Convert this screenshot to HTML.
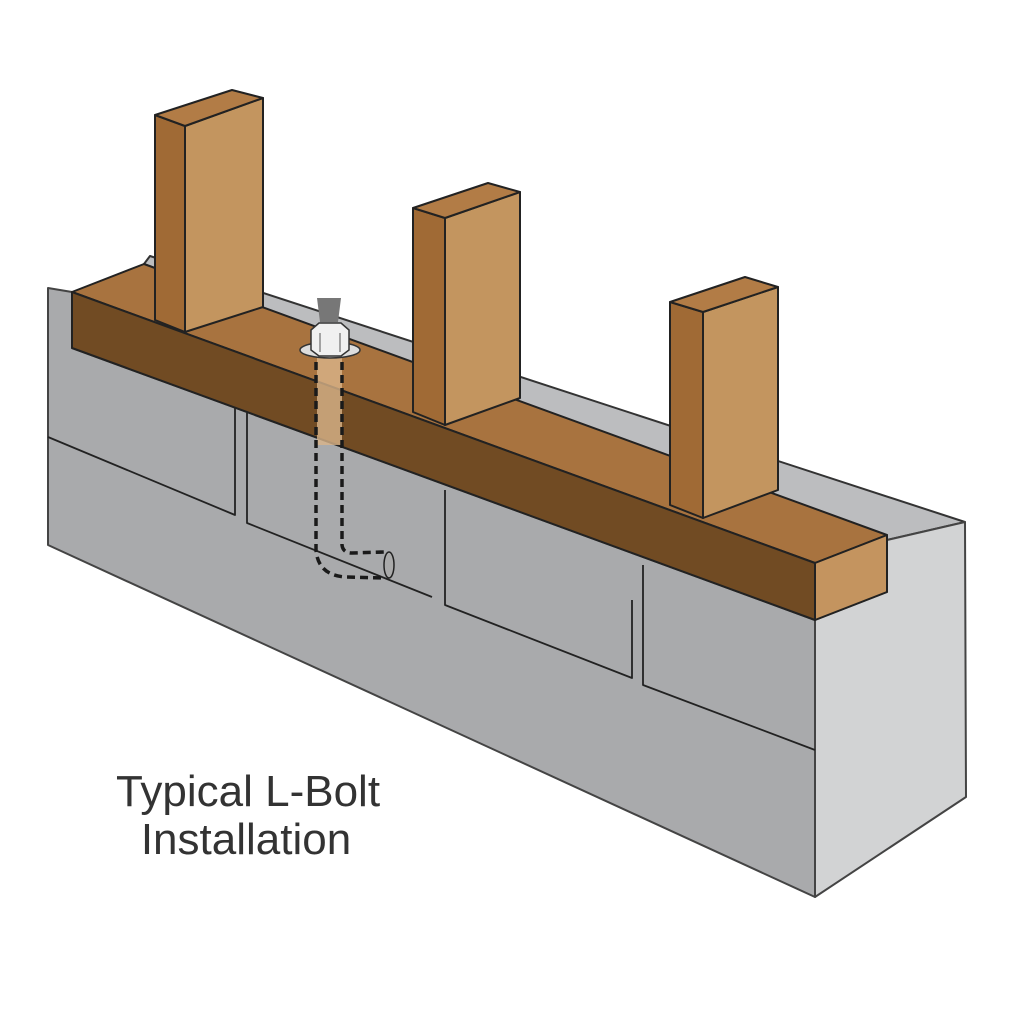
<!DOCTYPE html>
<html><head><meta charset="utf-8"><style>
html,body{margin:0;padding:0;background:#fff;}
svg{display:block}
</style></head><body>
<svg width="1024" height="1024" viewBox="0 0 1024 1024" xmlns="http://www.w3.org/2000/svg">
<g stroke="#222" stroke-width="2" stroke-linejoin="round">
<polygon points="150,256 965,522 887,540 144,264" fill="#bcbdbf" stroke="#333"/>
<polygon points="48,288 72,292 72,348 815,620 815,897 48,545" fill="#a9aaac" stroke="#444"/>
<polygon points="815,620 887,592 887,540 965,522 966,797 815,897" fill="#d2d3d4" stroke="#444"/>
<g fill="none" stroke="#222" stroke-width="1.8">
<polyline points="48,437 235,515 235,408"/>
<polyline points="247,413 247,523 432,597"/>
<polyline points="445,490 445,605 632,678 632,600"/>
<polyline points="643,565 643,685 815,750"/>
</g>
<polygon points="72,292 815,563 887,535 144,264" fill="#a8733f"/>
<polygon points="72,292 815,563 815,620 72,348" fill="#714b23"/>
<polygon points="815,563 887,535 887,592 815,620" fill="#c4945f"/>
<rect x="317" y="355" width="25" height="90" fill="#d9b48a" stroke="none" opacity="0.8"/>
<polygon points="155,115 185,126 185,332 155,320" fill="#a06a35"/>
<polygon points="185,126 263,98 263,307 185,332" fill="#c3955f"/>
<polygon points="155,115 232,90 263,98 185,126" fill="#b27c46"/>
<polygon points="413,208 445,218 445,425 413,412" fill="#a06a35"/>
<polygon points="445,218 520,192 520,398 445,425" fill="#c3955f"/>
<polygon points="413,208 488,183 520,192 445,218" fill="#b27c46"/>
<polygon points="670,302 703,312 703,518 670,505" fill="#a06a35"/>
<polygon points="703,312 778,287 778,490 703,518" fill="#c3955f"/>
<polygon points="670,302 745,277 778,287 703,312" fill="#b27c46"/>
</g>
<g>
<polygon points="317,298 341,298 338,322 320,322" fill="#777"/>
<ellipse cx="330" cy="350" rx="30" ry="8" fill="#ddd" stroke="#333" stroke-width="1.5"/>
<polygon points="311,330 319,323 341,323 349,330 349,350 341,356 319,356 311,350" fill="#f0f0f0" stroke="#333" stroke-width="1.5"/>
<line x1="320" y1="333" x2="320" y2="352" stroke="#555" stroke-width="1"/>
<line x1="340" y1="333" x2="340" y2="352" stroke="#555" stroke-width="1"/>
<g fill="none" stroke="#1a1a1a" stroke-width="3.5" stroke-dasharray="8,5">
<path d="M316,362 L316,550 Q318,575 345,577 L385,578"/>
<path d="M342,362 L342,545 Q343,553 352,553 L384,552"/>
</g>
<ellipse cx="389" cy="565" rx="5" ry="13" fill="#aaa" stroke="#222" stroke-width="1.5"/>
</g>
<g font-family="Liberation Sans, sans-serif" font-size="44" fill="#333" text-anchor="middle">
<text x="248" y="806">Typical L-Bolt</text>
<text x="246" y="854">Installation</text>
</g>
</svg>
</body></html>
